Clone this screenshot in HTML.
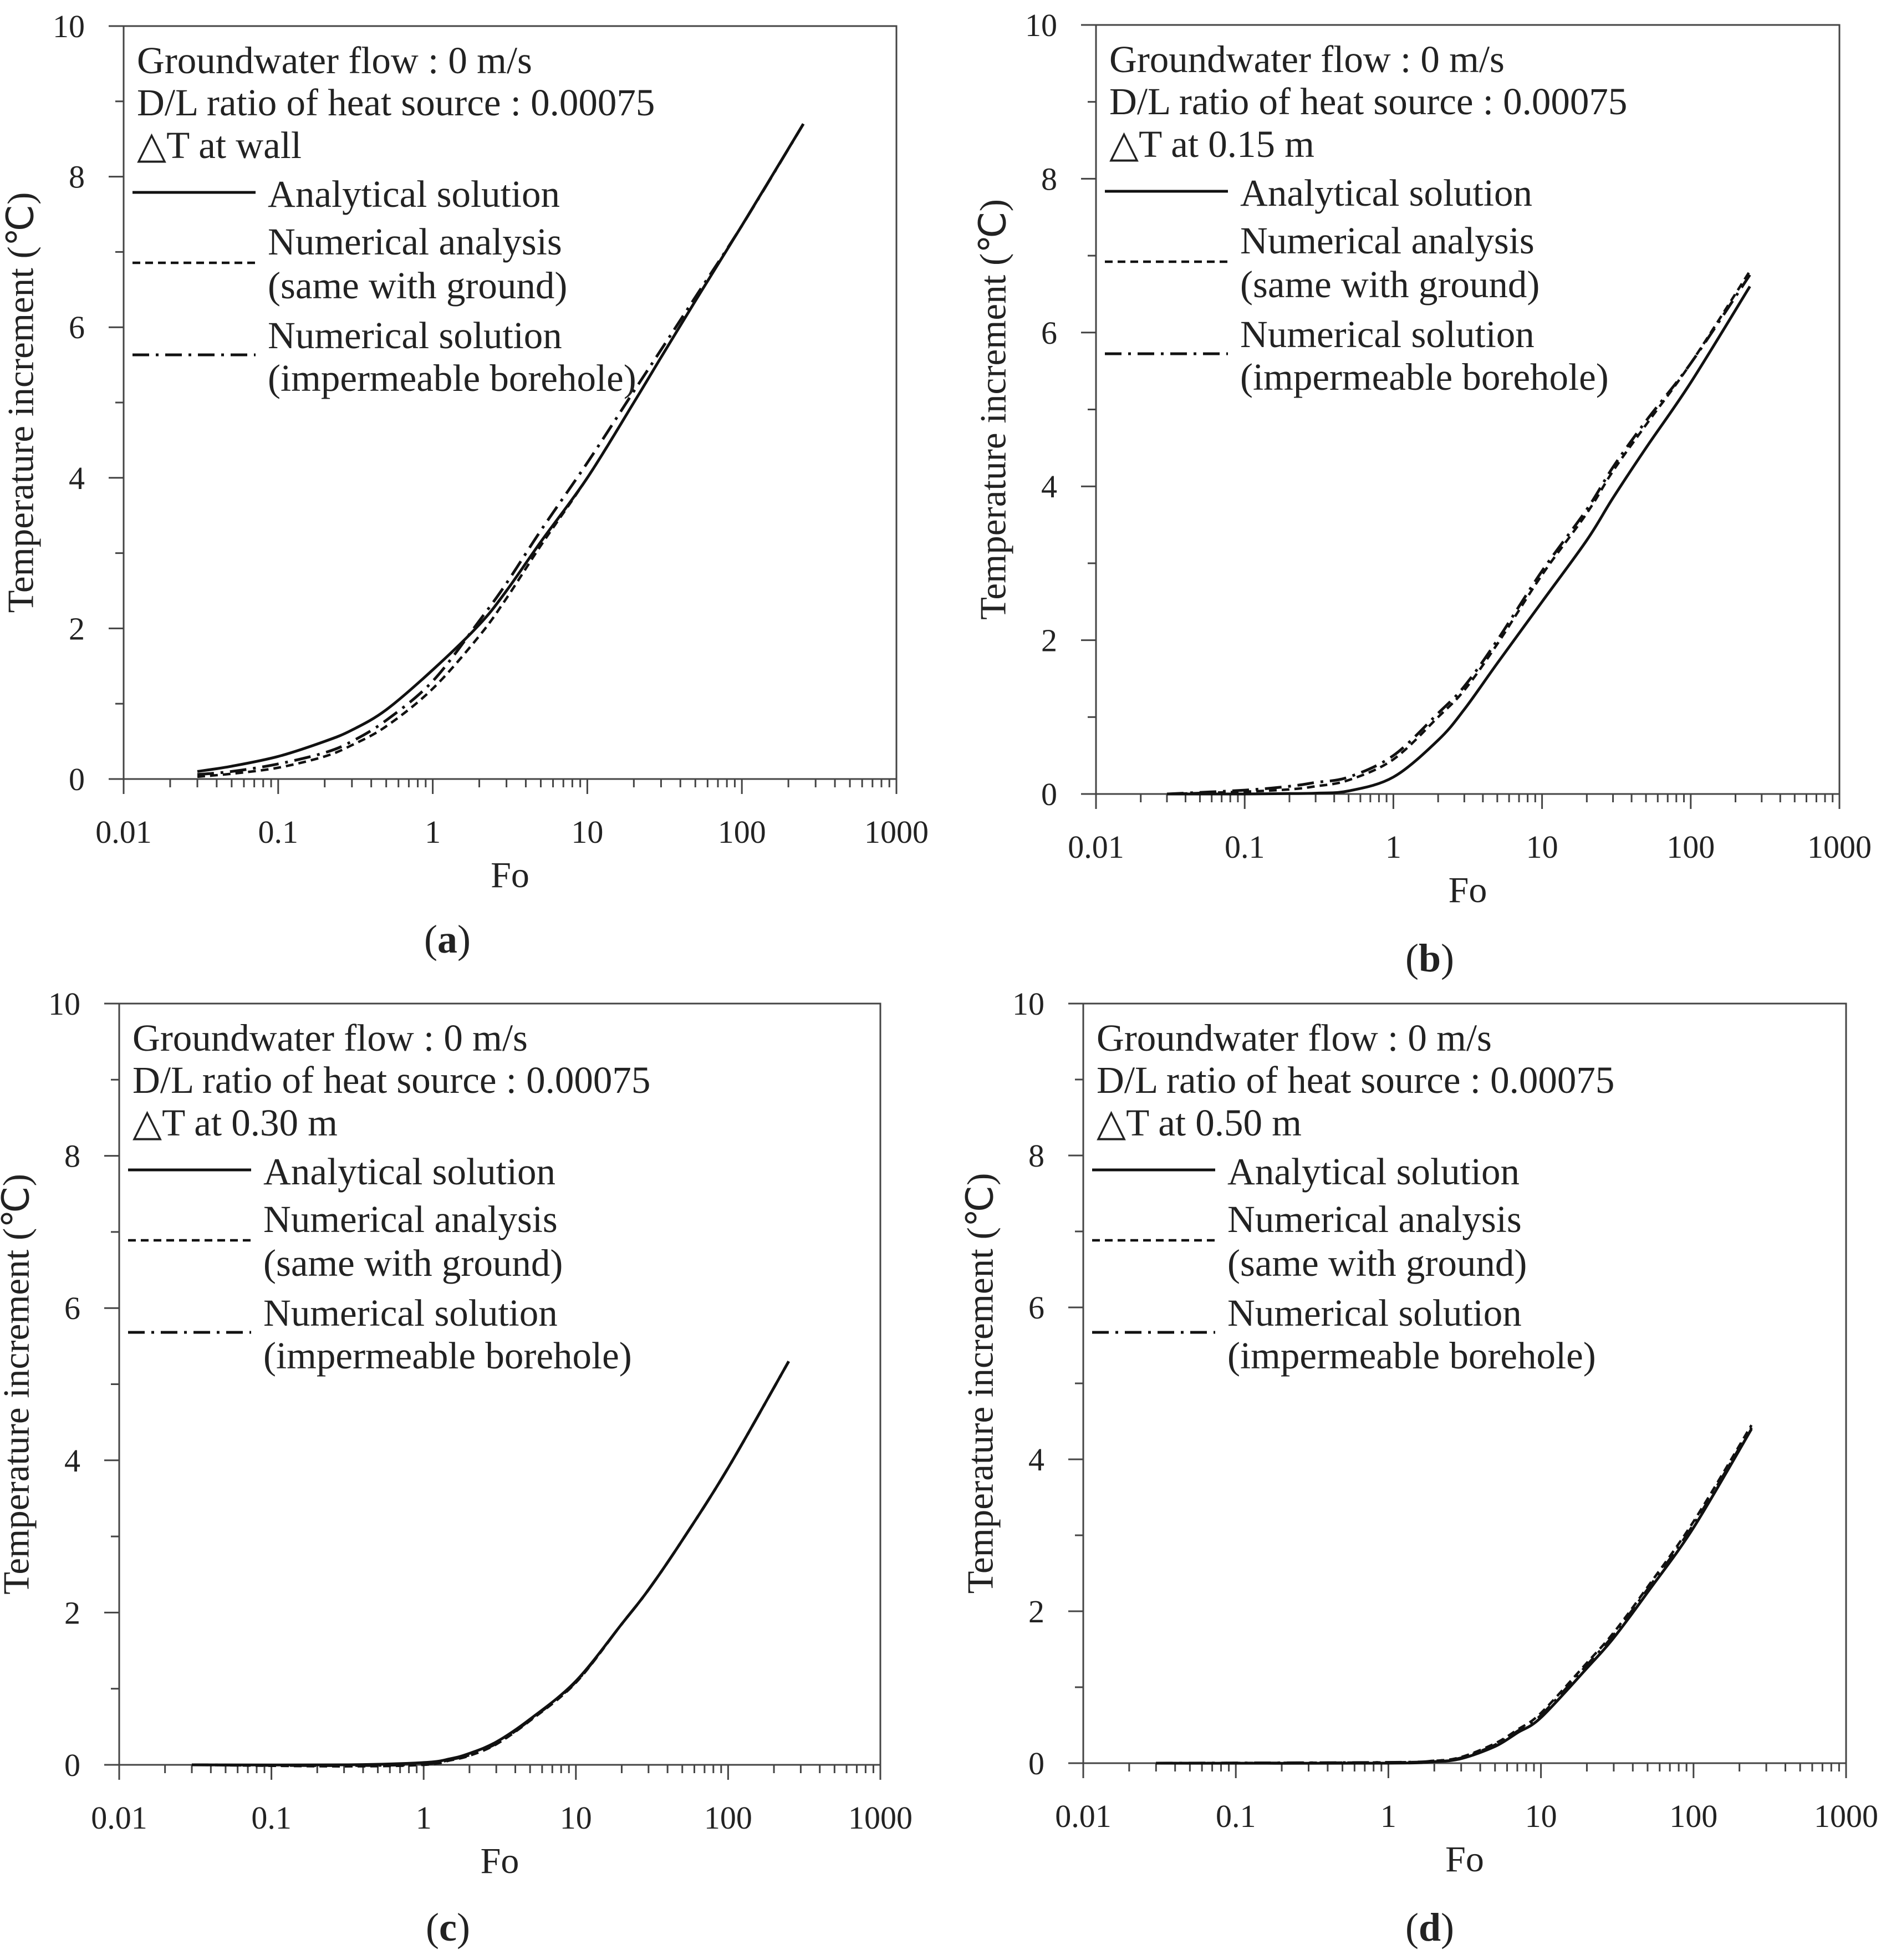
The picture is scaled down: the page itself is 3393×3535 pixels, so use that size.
<!DOCTYPE html>
<html><head><meta charset="utf-8"><style>
html,body{margin:0;padding:0;background:#fff}
svg{display:block}
text{font-family:"Liberation Serif",serif;fill:#222}
</style></head><body>
<svg id="chart" width="3393" height="3535" viewBox="0 0 3393 3535" xmlns="http://www.w3.org/2000/svg"></svg>
<script>
const panelIds=['a','b','c','d'];
const panelSubtitles=['△T at wall','△T at 0.15 m','△T at 0.30 m','△T at 0.50 m'];
const xTickLabels=['0.01','0.1','1','10','100','1000'];
const yTickLabels=['0','2','4','6','8','10'];
// Panel a
const aFo=[0.03,0.05,0.1,0.2,0.3,0.5,1,2,3,5,10,20,30,50,100,250];
const aAna=[0.1,0.17,0.3,0.5,0.65,0.92,1.45,2.05,2.5,3.15,4.0,5.0,5.6,6.35,7.35,8.7];
const aNum=[0.03,0.07,0.15,0.3,0.45,0.7,1.2,1.9,2.4,3.1,4.0,5.0,5.6,6.35,7.35,8.7];
const aImp=[0.06,0.1,0.2,0.35,0.5,0.78,1.3,2.1,2.6,3.3,4.2,5.15,5.7,6.4,7.35,8.7];
// Panel b
const bFo=[0.03,0.1,0.2,0.3,0.5,1,2,3,5,10,20,30,50,100,250];
const bAna=[0,0,0.005,0.01,0.04,0.22,0.7,1.1,1.7,2.5,3.3,3.85,4.5,5.35,6.6];
const bNum=[0,0.03,0.06,0.1,0.18,0.45,1.0,1.35,1.95,2.85,3.65,4.2,4.8,5.6,6.8];
const bImp=[0,0.05,0.1,0.15,0.22,0.5,1.05,1.4,2.0,2.9,3.7,4.25,4.85,5.6,6.75];
// Panel c
const cFo=[0.03,0.3,1,1.5,2,3,5,10,20,30,50,100,250];
const cAna=[0,0,0.03,0.08,0.15,0.3,0.6,1.1,1.85,2.3,2.95,3.9,5.3];
const cNum=[0,-0.02,0.0,0.06,0.12,0.27,0.58,1.08,1.85,2.3,2.95,3.9,5.3];
const cImp=[0,-0.01,0.01,0.07,0.13,0.28,0.59,1.09,1.85,2.3,2.95,3.9,5.3];
// Panel d
const dFo=[0.03,1,2,3,5,7,10,20,30,50,100,240];
const dAna=[0,0,0.02,0.06,0.22,0.4,0.6,1.25,1.65,2.25,3.1,4.4];
const dNum=[0,0.01,0.03,0.08,0.26,0.44,0.66,1.32,1.72,2.32,3.18,4.45];
const dImp=[0,0.01,0.03,0.07,0.24,0.42,0.63,1.29,1.69,2.29,3.14,4.42];

const svg=document.getElementById('chart');
const NS='http://www.w3.org/2000/svg';
function mk(tag,attrs,parent){const e=document.createElementNS(NS,tag);for(const k in attrs)e.setAttribute(k,attrs[k]);(parent||svg).appendChild(e);return e;}

const boxes=[{L:223,R:1617,T:47,B:1405,lx:807,ly:1718},
             {L:1977,R:3318,T:45,B:1432,lx:2579,ly:1752},
             {L:215,R:1588,T:1810,B:3183,lx:808,ly:3500},
             {L:1954,R:3330,T:1810,B:3180,lx:2579,ly:3500}];
const series=[[aFo,aAna,aNum,aImp],[bFo,bAna,bNum,bImp],[cFo,cAna,cNum,cImp],[dFo,dAna,dNum,dImp]];
const styles=[{dash:'none',w:5},{dash:'14 9',w:4.5},{dash:'30 12 5 12',w:5}];
const seriesNames=['analytical-solution-line','numerical-analysis-line','impermeable-borehole-line'];

function smoothPath(P){
  let d='M'+P[0][0].toFixed(1)+','+P[0][1].toFixed(1);
  for(let i=0;i<P.length-1;i++){
    const p0=P[Math.max(0,i-1)],p1=P[i],p2=P[i+1],p3=P[Math.min(P.length-1,i+2)];
    const c1=[p1[0]+(p2[0]-p0[0])/6,p1[1]+(p2[1]-p0[1])/6];
    const c2=[p2[0]-(p3[0]-p1[0])/6,p2[1]-(p3[1]-p1[1])/6];
    d+=` C${c1[0].toFixed(1)},${c1[1].toFixed(1)} ${c2[0].toFixed(1)},${c2[1].toFixed(1)} ${p2[0].toFixed(1)},${p2[1].toFixed(1)}`;
  }
  return d;
}

boxes.forEach((b,pi)=>{
  const g=mk('g',{});
  
  
  const xs=v=>b.L+(Math.log10(v)+2)/5*(b.R-b.L);
  const ys=v=>b.B-v/10*(b.B-b.T);
  const fr=mk('rect',{x:b.L,y:b.T,width:b.R-b.L,height:b.B-b.T,fill:'none',stroke:'#444','stroke-width':3},g);
  
  
  for(let v=0;v<=10;v++){
    const maj=v%2===0;
    mk('line',{x1:b.L-(maj?27:15),x2:b.L,y1:ys(v),y2:ys(v),stroke:'#444','stroke-width':3},g);
  }
  yTickLabels.forEach(t=>{
    const e=mk('text',{x:b.L-70,y:ys(+t)+20,'font-size':58,'text-anchor':'end'},g);
    e.textContent=t;
    
    
  });
  for(let d=-2;d<=3;d++){
    mk('line',{x1:xs(Math.pow(10,d)),x2:xs(Math.pow(10,d)),y1:b.B,y2:b.B+27,stroke:'#444','stroke-width':3},g);
    if(d<3)for(let m=2;m<=9;m++){const x=xs(m*Math.pow(10,d));mk('line',{x1:x,x2:x,y1:b.B,y2:b.B+15,stroke:'#444','stroke-width':3},g);}
  }
  xTickLabels.forEach(t=>{
    const e=mk('text',{x:xs(+t),y:b.B+115,'font-size':58,'text-anchor':'middle'},g);
    e.textContent=t;
    
    
  });
  const xt=mk('text',{x:(b.L+b.R)/2,y:b.B+195,'font-size':66,'text-anchor':'middle'},g);
  xt.textContent='Fo';
  
  
  const cy=(b.T+b.B)/2, cx=b.L-179;
  const yt=mk('text',{x:cx,y:cy,'font-size':67,'text-anchor':'middle','dominant-baseline':'middle',transform:`rotate(-90 ${cx} ${cy})`},g);
  yt.textContent='Temperature increment (℃)';
  
  
  const pl=mk('text',{x:b.lx,y:b.ly,'font-size':72,'text-anchor':'middle'},g);
  pl.innerHTML='(<tspan font-weight="bold">'+panelIds[pi]+'</tspan>)';
  
  
  const lines=['Groundwater flow : 0 m/s','D/L ratio of heat source : 0.00075',panelSubtitles[pi]];
  const off=[85,161,238];
  lines.forEach((t,i)=>{
    const e=mk('text',{x:b.L+24,y:b.T+off[i],'font-size':69},g);
    e.textContent=t;
    
    
  });
  const legTexts=[['Analytical solution',326],['Numerical analysis',412],['(same with ground)',491],['Numerical solution',581],['(impermeable borehole)',658]];
  legTexts.forEach(([t,o])=>{
    const e=mk('text',{x:b.L+260,y:b.T+o,'font-size':69},g);
    e.textContent=t;
    
    
  });
  [300,427,593].forEach((o,i)=>{
    const e=mk('line',{x1:b.L+16,x2:b.L+238,y1:b.T+o,y2:b.T+o,stroke:'#111','stroke-width':styles[i].w,'stroke-dasharray':styles[i].dash},g);
    
    
  });
  const [fo,...ys3]=series[pi];
  [2,1,0].forEach(si=>{
    const P=fo.map((f,i)=>[xs(f),ys(ys3[si][i])]);
    const e=mk('path',{d:smoothPath(P),fill:'none',stroke:'#111','stroke-width':styles[si].w,'stroke-dasharray':styles[si].dash,'stroke-linejoin':'round'},g);
    
    
  });
});
</script>
</body></html>
